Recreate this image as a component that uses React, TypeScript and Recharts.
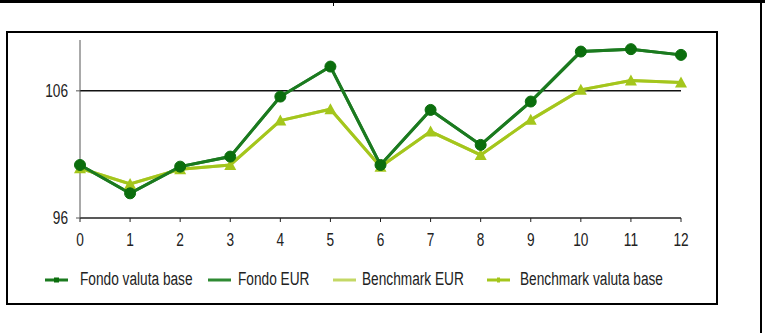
import { LineChart, Line, XAxis, YAxis, ReferenceLine } from 'recharts';

const months = ['0', '1', '2', '3', '4', '5', '6', '7', '8', '9', '10', '11', '12'];
const fondoValutaBase = [100.17, 97.94, 100.04, 100.83, 105.55, 107.91, 100.17, 104.5, 101.75, 105.16, 109.09, 109.28, 108.83];
const fondoEur = [100.17, 97.94, 100.04, 100.83, 105.55, 107.91, 100.17, 104.5, 101.75, 105.16, 109.09, 109.28, 108.83];
const benchmarkEur = [99.91, 98.68, 99.83, 100.17, 103.66, 104.56, 100.04, 102.8, 100.96, 103.72, 106.08, 106.81, 106.65];
const benchmarkValutaBase = [99.91, 98.68, 99.83, 100.17, 103.66, 104.56, 100.04, 102.8, 100.96, 103.72, 106.08, 106.81, 106.65];
const yTicks = [96, 106];
const legendLabels = ['Fondo valuta base', 'Fondo EUR', 'Benchmark EUR', 'Benchmark valuta base'];

const data = months.map((m, i) => ({
  m,
  fvb: fondoValutaBase[i],
  feur: fondoEur[i],
  beur: benchmarkEur[i],
  bvb: benchmarkValutaBase[i],
}));

// narrow, tall windows-ish font: Liberation Sans squeezed horizontally
const FONT = '"Liberation Sans", Arial, sans-serif';
const FS = 18;
const SQUEEZE = 0.76;

const DARK = '#1b7a1f';
const DARK_DOT = '#0b6e0d';
const LIGHT = '#a4c61c';
const LIGHT_EUR = '#c4d866';
const DARK_EUR = '#2e8a33';

const Triangle = (props: any) => {
  const { cx, cy, index } = props;
  return <polygon key={index} points={`${cx},${cy - 6} ${cx - 6},${cy + 5} ${cx + 6},${cy + 5}`} fill={LIGHT} />;
};

const XTick = (props: any) => {
  const { x, y, payload } = props;
  return (
    <g transform={`translate(${x},${y}) scale(${SQUEEZE},1)`}>
      <text textAnchor="middle" dy="0.71em" fontFamily={FONT} fontSize={FS} fill="#222">
        {payload.value}
      </text>
    </g>
  );
};

const YTick = (props: any) => {
  const { x, y, payload } = props;
  return (
    <g transform={`translate(${x},${y}) scale(${SQUEEZE},1)`}>
      <text textAnchor="end" dy="0.36em" fontFamily={FONT} fontSize={FS} fill="#222">
        {payload.value}
      </text>
    </g>
  );
};

const legendStyle = [
  { color: DARK, mark: 'square', icon: 45, text: 80 },
  { color: DARK_EUR, mark: '', icon: 208, text: 238 },
  { color: LIGHT_EUR, mark: '', icon: 333, text: 362 },
  { color: LIGHT, mark: 'tick', icon: 487, text: 520 },
];

export default function App() {
  return (
    <div style={{ position: 'fixed', left: 0, top: 0, width: 765, height: 333, background: '#fff' }}>
      <div style={{ position: 'absolute', left: 0, top: 0, width: 765, height: 3, background: '#000' }} />
      <div style={{ position: 'absolute', left: 333, top: 0, width: 1, height: 6, background: '#000' }} />
      <div style={{ position: 'absolute', left: 760, top: 0, width: 2, height: 333, background: '#000' }} />
      <div style={{ position: 'absolute', left: 6, top: 31, width: 708, height: 270, border: '2px solid #000' }} />
      <div style={{ position: 'absolute', left: 0, top: 0 }}>
        <LineChart width={765} height={333} data={data} margin={{ top: 40, right: 84, bottom: 85, left: 0 }}>
          <XAxis
            dataKey="m"
            height={30}
            interval={0}
            tick={<XTick />}
            tickSize={4}
            tickMargin={11}
            stroke="#222"
            axisLine={{ stroke: '#222', strokeWidth: 1.5 }}
          />
          <YAxis
            width={80}
            domain={[96, 110]}
            ticks={yTicks}
            tick={<YTick />}
            tickSize={4}
            tickMargin={8}
            stroke="#555"
            axisLine={{ stroke: '#555', strokeWidth: 1 }}
          />
          <ReferenceLine y={106} stroke="#111" strokeWidth={1.5} />
          <Line dataKey="beur" stroke={LIGHT_EUR} strokeWidth={3} dot={false} isAnimationActive={false} />
          <Line dataKey="feur" stroke={DARK_EUR} strokeWidth={3} dot={false} isAnimationActive={false} />
          <Line dataKey="bvb" stroke={LIGHT} strokeWidth={3} dot={Triangle} activeDot={false} isAnimationActive={false} />
          <Line
            dataKey="fvb"
            stroke={DARK}
            strokeWidth={3}
            dot={{ r: 5.5, fill: DARK_DOT, stroke: DARK_DOT, strokeWidth: 1 }}
            activeDot={false}
            isAnimationActive={false}
          />
        </LineChart>
      </div>
      {legendLabels.map((label, i) => {
        const st = legendStyle[i];
        return (
          <div key={label}>
            <svg width={23} height={10} style={{ position: 'absolute', left: st.icon, top: 275 }}>
              <line x1={0} y1={5} x2={23} y2={5} stroke={st.color} strokeWidth={3} />
              {st.mark === 'square' && <rect x={9} y={2.5} width={5} height={5} fill={DARK_DOT} />}
              {st.mark === 'tick' && <rect x={10} y={2.5} width={3} height={5} fill={LIGHT} />}
            </svg>
            <span
              style={{
                position: 'absolute',
                left: st.text,
                top: 269,
                fontFamily: FONT,
                fontSize: FS,
                lineHeight: '20px',
                color: '#222',
                whiteSpace: 'nowrap',
                transform: `scaleX(${SQUEEZE})`,
                transformOrigin: 'left center',
              }}
            >
              {label}
            </span>
          </div>
        );
      })}
    </div>
  );
}
